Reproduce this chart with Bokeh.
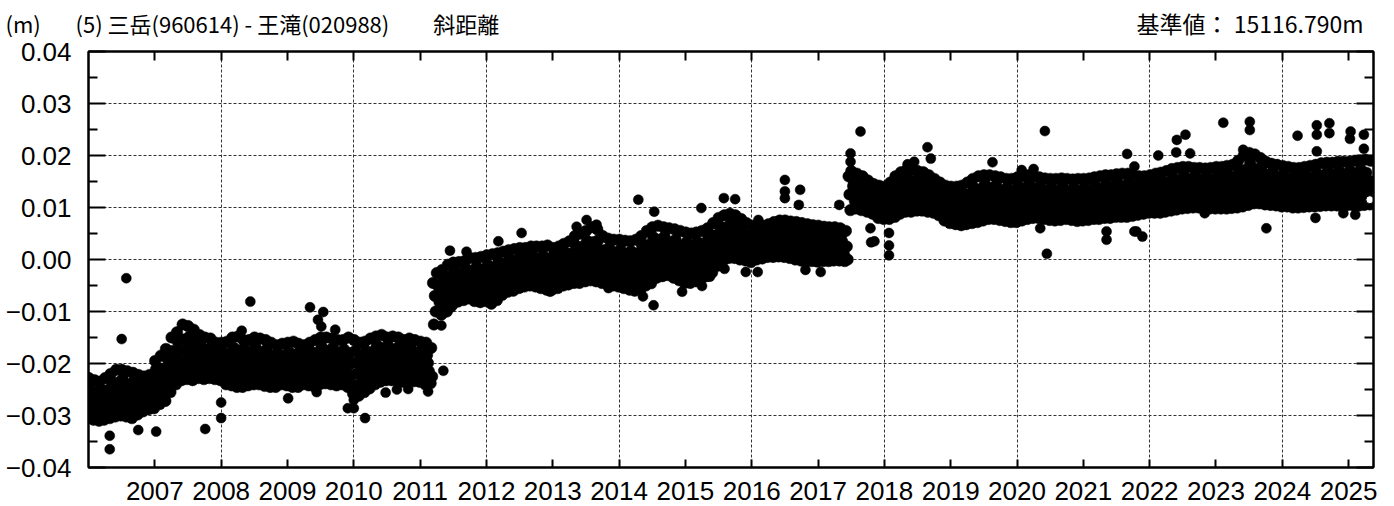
from datetime import date
from bokeh.plotting import figure
from bokeh.layouts import column
from bokeh.models import (Range1d, FixedTicker, LinearAxis, Grid,
                          CustomJSTickFormatter, ColumnDataSource)
from bokeh.core.properties import value
from bokeh.embed import file_html
from bokeh.resources import INLINE

# ---------------- data (values in units of 0.1 mm = 1e-4 m) ----------------
# six readings per month (days 3, 8, 13, 18, 23, 28), January first
DAYS = [3, 8, 13, 18, 23, 28]

b2006 = [-228,-245,-262,-277,-293,-308, -232,-256,-272,-288,-304,-310, -235,-250,-265,-279,-294,-308,
         -228,-252,-267,-282,-298,-305, -220,-236,-253,-270,-286,-302, -212,-237,-255,-272,-290,-300,
         -212,-230,-248,-266,-284,-302, -215,-241,-259,-277,-295,-305, -218,-234,-250,-266,-282,-298,
         -222,-244,-258,-272,-286,-292, -225,-238,-250,-263,-275,-288, -222,-243,-256,-268,-281,-286]
b2007 = [-195,-211,-228,-245,-262,-278, -185,-210,-228,-245,-263,-272, -172,-189,-205,-222,-238,-255,
         -150,-176,-194,-212,-230,-240, -140,-158,-177,-195,-214,-232, -125,-154,-175,-196,-217,-230,
         -128,-149,-170,-190,-211,-232, -135,-162,-180,-199,-217,-228, -145,-162,-179,-196,-213,-230,
         -150,-174,-189,-205,-220,-228, -152,-168,-183,-199,-214,-230, -160,-182,-197,-211,-226,-232]
b2008 = [-160,-176,-192,-208,-224,-240, -158,-183,-200,-216,-233,-242, -150,-169,-188,-207,-226,-245,
         -148,-175,-195,-214,-234,-245, -155,-172,-190,-207,-225,-242, -155,-180,-197,-214,-231,-240,
         -150,-168,-186,-204,-222,-240, -152,-178,-196,-215,-233,-243, -155,-173,-191,-209,-227,-245,
         -160,-185,-202,-219,-236,-245, -165,-180,-195,-210,-225,-240, -162,-186,-202,-218,-234,-242]
b2009 = [-160,-177,-194,-211,-228,-245, -158,-183,-201,-218,-236,-245, -162,-178,-193,-209,-224,-240,
         -165,-188,-204,-219,-235,-242, -160,-177,-194,-210,-227,-244, -155,-180,-197,-214,-231,-240,
         -150,-168,-185,-203,-220,-238, -150,-176,-194,-212,-230,-240, -152,-170,-188,-206,-224,-242,
         -155,-180,-197,-214,-231,-240, -155,-173,-191,-209,-227,-245, -150,-180,-201,-223,-244,-258]
b2010 = [-155,-176,-198,-219,-241,-262, -160,-187,-206,-225,-244,-255, -158,-176,-194,-212,-230,-248,
         -152,-178,-195,-213,-230,-240, -148,-165,-183,-200,-218,-235, -145,-170,-188,-205,-223,-232,
         -150,-166,-183,-199,-216,-232, -148,-173,-190,-207,-224,-233, -150,-167,-184,-201,-218,-235,
         -155,-178,-194,-209,-225,-232, -152,-168,-185,-201,-218,-234, -155,-179,-195,-211,-227,-235]
b2011 = [-158,-174,-191,-207,-224,-240, -160,-184,-199,-215,-230,-238, -170,-225,-45,-125,-70,-100,
         -26,-50,-66,-82,-98,-106, -20,-36,-52,-68,-84,-100, -10,-33,-49,-64,-80,-87,
         -6,-21,-36,-51,-66,-81, -5,-28,-42,-57,-71,-78, -3,-17,-32,-46,-61,-75,
         3,-22,-38,-55,-71,-80, 3,-14,-31,-48,-65,-82, 5,-20,-37,-54,-71,-80]
b2012 = [8,-10,-29,-47,-66,-85, 10,-16,-34,-50,-68,-78, 12,-4,-20,-36,-52,-68,
         15,-8,-24,-39,-55,-62, 18,2,-13,-29,-44,-60, 20,-3,-18,-33,-48,-55,
         22,7,-8,-22,-37,-52, 22,0,-15,-29,-44,-50, 25,10,-6,-21,-37,-52,
         25,1,-15,-31,-47,-55, 25,8,-9,-25,-42,-58, 27,2,-15,-32,-49,-58]
b2013 = [22,7,-9,-24,-40,-55, 25,2,-13,-28,-43,-50, 30,14,-1,-17,-32,-48,
         35,11,-5,-21,-37,-45, 45,27,9,-9,-27,-45, 50,24,5,-13,-32,-42,
         55,36,17,-2,-21,-40, 62,33,12,-8,-29,-42, 58,37,17,-4,-24,-45,
         45,18,0,-19,-37,-48, 40,22,4,-14,-32,-50, 38,12,-6,-24,-42,-52]
b2014 = [38,19,1,-18,-36,-55, 36,9,-10,-28,-47,-58, 35,16,-3,-22,-41,-60,
         38,11,-9,-28,-47,-58, 45,26,7,-12,-31,-50, 55,28,8,-11,-31,-42,
         62,43,23,4,-16,-35, 65,38,18,-1,-21,-32, 62,44,25,7,-12,-30,
         60,33,14,-5,-24,-35, 58,38,19,-1,-20,-40, 55,27,7,-13,-33,-45]
b2015 = [52,33,13,-6,-26,-45, 50,24,5,-13,-32,-42, 52,34,16,-2,-20,-38,
         55,30,12,-5,-23,-32, 60,43,26,9,-8,-25, 70,46,29,13,-4,-12,
         80,64,47,31,14,-2, 85,61,44,28,11,3, 88,71,54,37,20,3,
         85,60,43,26,9,0, 78,62,46,30,14,-2, 70,47,32,17,2,-5]
b2016 = [65,52,39,26,13,0, 62,44,32,20,8,2, 65,53,41,29,17,5,
         68,49,37,24,12,5, 72,59,46,32,19,6, 75,54,40,26,12,5,
         75,61,46,32,17,3, 73,51,37,22,8,0, 72,57,42,28,13,-2,
         70,48,34,19,5,-3, 68,54,40,25,11,-3, 66,45,31,17,3,-4]
b2017 = [65,51,38,24,11,-3, 63,43,30,16,3,-3, 62,49,36,22,9,-2,
         62,42,29,15,2,-2, 60,47,35,22,10,-3, 55,25,0,160,125,95,
         170,156,141,127,112,98, 165,144,130,116,102,95, 160,146,133,119,106,92,
         152,132,119,107,94,88, 145,132,119,106,93,80, 142,122,109,97,84,78]
b2018 = [140,128,115,103,90,78, 148,128,115,101,88,82, 160,146,131,117,102,88,
         168,146,130,114,99,92, 172,156,140,124,108,92, 172,149,133,117,102,94,
         170,155,140,124,109,94, 168,146,130,114,99,92, 162,148,133,119,104,90,
         155,134,120,106,92,85, 148,133,119,104,90,75, 142,121,106,92,77,70]
b2019 = [140,126,111,97,82,68, 140,118,103,88,73,66, 142,127,112,98,83,68,
         148,125,109,93,78,70, 155,138,122,105,89,72, 160,135,118,101,84,75,
         162,145,128,112,95,78, 162,137,120,104,87,78, 160,143,126,110,93,76,
         158,133,116,100,83,74, 155,138,122,105,89,72, 155,130,114,97,81,72]
b2020 = [158,141,125,108,92,75, 160,136,119,103,86,78, 162,146,129,113,96,80,
         160,136,120,104,88,80, 158,142,126,110,94,78, 156,132,116,100,84,76,
         155,139,123,107,91,75, 155,131,115,100,84,76, 156,140,125,109,94,78,
         155,131,115,100,84,76, 154,138,122,106,90,74, 155,131,115,99,83,75]
b2021 = [155,139,123,108,92,76, 156,132,117,101,86,78, 158,142,126,110,94,78,
         160,136,120,104,88,80, 162,146,129,113,96,80, 162,138,122,106,90,82,
         164,148,131,115,98,82, 165,140,124,107,91,82, 165,149,133,116,100,84,
         162,139,124,108,93,86, 160,146,131,117,102,88, 160,138,124,110,96,90]
b2022 = [162,148,133,119,104,90, 165,142,127,112,97,90, 167,152,137,122,107,92,
         170,147,132,116,101,94, 174,158,143,127,112,96, 176,152,137,121,106,98,
         178,162,146,131,115,99, 178,154,139,123,108,100, 176,161,146,130,115,100,
         176,153,137,122,106,99, 175,160,144,129,113,98, 176,152,137,121,106,98]
b2023 = [178,162,146,130,114,98, 178,154,138,122,106,98, 180,164,148,131,115,99,
         182,158,141,125,108,100, 190,172,155,137,120,102, 200,172,153,134,115,105,
         205,186,166,147,127,108, 202,174,155,137,118,108, 195,177,159,142,124,106,
         188,163,147,130,114,105, 184,168,152,136,120,104, 182,158,142,126,110,102]
b2024 = [180,164,149,133,118,102, 178,154,139,123,108,100, 176,161,146,130,115,100,
         176,153,138,123,108,101, 178,163,148,132,117,102, 180,156,141,125,110,102,
         182,166,150,135,119,103, 185,161,145,128,112,104, 186,170,153,137,120,104,
         186,162,145,129,112,104, 188,171,155,138,122,105, 188,163,147,130,114,105]
b2025 = [188,171,154,138,121,104, 190,165,148,130,113,104, 190,173,156,139,122,105,
         192,167,150,132,115,106, 190,150,108]

band = {2006: b2006, 2007: b2007, 2008: b2008, 2009: b2009, 2010: b2010, 2011: b2011,
        2012: b2012, 2013: b2013, 2014: b2014, 2015: b2015, 2016: b2016, 2017: b2017,
        2018: b2018, 2019: b2019, 2020: b2020, 2021: b2021, 2022: b2022, 2023: b2023,
        2024: b2024, 2025: b2025}

# isolated points (decimal year, value in 1e-4 m)
outliers = [(2006.32,-339),(2006.32,-365),(2006.50,-153),(2006.57,-36),(2006.75,-328),(2007.02,-331),
            (2007.76,-326),(2008.00,-275),(2008.00,-305),(2008.31,-137),(2008.44,-81),(2009.01,-267),
            (2009.34,-92),(2009.44,-255),(2009.46,-116),(2009.51,-129),(2009.54,-101),(2009.72,-135),
            (2009.91,-286),(2010.00,-286),(2010.00,-270),(2010.17,-305),(2010.48,-256),(2010.65,-250),
            (2010.82,-249),(2011.12,-254),(2011.32,-127),(2011.35,-214),(2011.45,17),(2011.47,-92),
            (2011.70,15),(2012.18,35),(2012.53,51),(2012.96,-62),(2013.36,63),(2013.51,76),(2013.66,67),
            (2013.84,-55),(2014.29,115),(2014.36,-71),(2014.49,-47),(2014.52,-88),(2014.53,92),
            (2014.95,-62),(2015.24,99),(2015.25,-51),(2015.37,-33),(2015.58,118),(2015.59,-18),
            (2015.75,116),(2015.91,-24),(2016.09,-24),(2016.10,76),(2016.50,153),(2016.50,131),
            (2016.50,118),(2016.71,105),(2016.73,134),(2016.81,-20),(2017.04,-24),(2017.32,105),
            (2017.49,204),(2017.49,188),(2017.64,246),(2017.79,60),(2017.80,33),(2017.85,35),
            (2018.07,51),(2018.07,27),(2018.07,8),(2018.35,183),(2018.45,188),(2018.65,216),
            (2018.70,194),(2019.63,187),(2020.07,172),(2020.25,174),(2020.35,60),(2020.42,247),
            (2020.45,11),(2021.35,54),(2021.35,38),(2021.66,203),(2021.77,179),(2021.77,54),
            (2021.80,54),(2021.89,44),(2022.13,200),(2022.40,206),(2022.41,230),(2022.54,240),
            (2022.61,204),(2022.83,89),(2023.11,263),(2023.41,211),(2023.51,265),(2023.51,249),
            (2023.76,60),(2024.23,238),(2024.50,80),(2024.52,258),(2024.52,240),(2024.52,208),
            (2024.71,262),(2024.71,243),(2024.92,89),(2025.02,232),(2025.03,246),(2025.10,86),
            (2025.23,240),(2025.23,213)]

latest_t = [2025.32]
latest_v = [115]

year_ticks = list(range(2007, 2026))
grid_years = list(range(2008, 2025, 2))
y_ticks = [-0.04, -0.03, -0.02, -0.01, 0.0, 0.01, 0.02, 0.03, 0.04]
y_minor = [-0.035, -0.025, -0.015, -0.005, 0.005, 0.015, 0.025, 0.035]
y_grid = [-0.03, -0.02, -0.01, 0.0, 0.01, 0.02, 0.03]

UNIT = "(m)"
TITLE = "(5) 三岳(960614) - 王滝(020988)　　斜距離"
BASE = "基準値： 15116.790m"

# ---------------- build ----------------
def dec_year(y, m, d):
    start = date(y, 1, 1)
    length = (date(y + 1, 1, 1) - start).days
    return y + (date(y, m, d) - start).days / length

xs, ys = [], []
for yr, vals in band.items():
    for i, v in enumerate(vals):
        xs.append(dec_year(yr, i // 6 + 1, DAYS[i % 6]))
        ys.append(v * 1e-4)

src = ColumnDataSource(dict(x=xs, y=ys))
osrc = ColumnDataSource(dict(x=[t for t, _ in outliers], y=[v * 1e-4 for _, v in outliers]))
lsrc = ColumnDataSource(dict(x=latest_t, y=[v * 1e-4 for v in latest_v]))

W = 1394
TOP_H = 38

# ---- title strip (pixel coordinates, y measured from the strip's bottom) ----
t = figure(width=W, height=TOP_H, x_range=Range1d(0, W), y_range=Range1d(0, TOP_H),
           x_axis_type=None, y_axis_type=None, output_backend="svg", toolbar_location=None,
           title=None, min_border=0, outline_line_color=None, frame_align=False,
           background_fill_color="white", border_fill_color="white")
t.text(x=[5, 75], y=[16, 16], text=[UNIT, TITLE],
       text_baseline="middle", text_font=value("Noto Sans CJK JP"),
       text_font_size="22px", text_color="black")
t.text(x=[1363], y=[16], text=[BASE], text_align="right",
       text_baseline="middle", text_font=value("Noto Sans CJK JP"),
       text_font_size="23px", text_color="black")

# ---- main plot ----
p = figure(width=W, height=506 - TOP_H,
           x_range=Range1d(2006.0, 2025.375), y_range=Range1d(-0.04, 0.04),
           x_axis_type=None, y_axis_type=None,
           output_backend="svg", toolbar_location=None, frame_align=False,
           min_border_left=88, min_border_right=21, min_border_top=13, min_border_bottom=39,
           background_fill_color="white", border_fill_color="white")
p.outline_line_color = "black"
p.outline_line_width = 2

grid_style = dict(grid_line_color="#333333", grid_line_dash="3 2", grid_line_width=1)
p.add_layout(Grid(dimension=0, ticker=FixedTicker(ticks=grid_years), **grid_style))
p.add_layout(Grid(dimension=1, ticker=FixedTicker(ticks=y_grid), **grid_style))

yfmt = CustomJSTickFormatter(code="""
const s = Math.abs(tick).toFixed(2);
return (tick < -1e-9 ? "\u2212" : "") + s;
""")
xfmt = CustomJSTickFormatter(code="return tick.toFixed(0);")
blank = CustomJSTickFormatter(code="return '';")

def style(ax, tin, minin, labels=True):
    ax.axis_line_color = "black"
    ax.axis_line_width = 2
    ax.major_tick_line_color = "black"
    ax.major_tick_line_width = 2
    ax.minor_tick_line_color = "black"
    ax.minor_tick_line_width = 2
    ax.major_tick_in = tin
    ax.major_tick_out = 0
    ax.minor_tick_in = minin
    ax.minor_tick_out = 0
    if labels:
        ax.major_label_text_font = "Liberation Sans"
        ax.major_label_text_font_size = "26px"
        ax.major_label_text_color = "black"
    else:
        ax.major_label_text_font_size = "0px"
        ax.major_label_standoff = 0

bottom = LinearAxis(ticker=FixedTicker(ticks=year_ticks), formatter=xfmt)
style(bottom, 8, 0)
bottom.major_label_standoff = 14
bottom.major_label_text_line_height = 0.6
top = LinearAxis(ticker=FixedTicker(ticks=year_ticks), formatter=blank)
style(top, 9, 0, labels=False)
left = LinearAxis(ticker=FixedTicker(ticks=y_ticks, minor_ticks=y_minor), formatter=yfmt)
style(left, 17, 9)
left.major_label_standoff = 17
right = LinearAxis(ticker=FixedTicker(ticks=y_ticks, minor_ticks=y_minor), formatter=blank)
style(right, 17, 9, labels=False)

p.add_layout(bottom, "below")
p.add_layout(top, "above")
p.add_layout(left, "left")
p.add_layout(right, "right")

p.scatter("x", "y", source=src, size=11.5, fill_color="black", line_color="black", line_width=0.5)
p.scatter("x", "y", source=osrc, size=10, fill_color="black", line_color="black", line_width=0.5)
p.scatter("x", "y", source=lsrc, size=8, fill_color="white", line_color="black", line_width=1)

layout = column(t, p, spacing=0)
open("out.html", "w").write(file_html(layout, INLINE))
